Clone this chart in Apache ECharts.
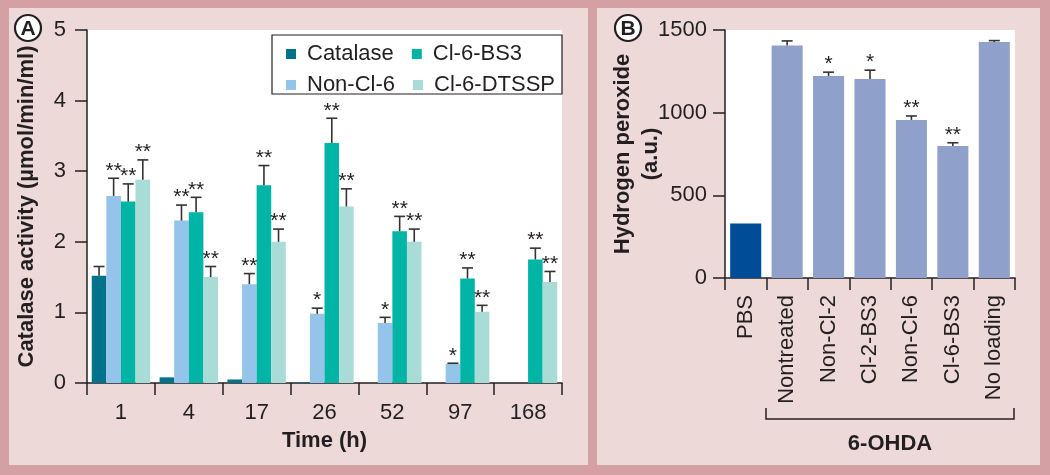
<!DOCTYPE html>
<html><head><meta charset="utf-8">
<script src="https://cdn.jsdelivr.net/npm/echarts@6/dist/echarts.min.js"></script>
<style>html,body{margin:0;padding:0;background:#eed9d9}#c{width:1050px;height:475px}</style>
</head><body><div id="c"></div>
<script>
// ---------- Panel A data ----------
const timeCats = ['1', '4', '17', '26', '52', '97', '168'];
const seriesNames = ['Catalase', 'Non-Cl-6', 'Cl-6-BS3', 'Cl-6-DTSSP'];
const catalase     = [1.52, 0.08, 0.05, 0.01, 0, 0, 0];
const catalaseErr  = [1.65, 0.08, 0.05, 0.01, 0, 0, 0];
const nonCl6       = [2.65, 2.30, 1.40, 0.98, 0.85, 0.27, 0];
const nonCl6Err    = [2.90, 2.52, 1.55, 1.06, 0.93, 0.28, 0];
const cl6BS3       = [2.57, 2.42, 2.80, 3.40, 2.15, 1.48, 1.75];
const cl6BS3Err    = [2.82, 2.63, 3.08, 3.75, 2.36, 1.63, 1.91];
const cl6DTSSP     = [2.88, 1.50, 2.00, 2.50, 2.00, 1.01, 1.43];
const cl6DTSSPErr  = [3.16, 1.65, 2.18, 2.75, 2.18, 1.10, 1.58];
const catalaseStars = ['', '', '', '', '', '', ''];
const nonCl6Stars   = ['**', '**', '**', '*', '*', '*', ''];
const cl6BS3Stars   = ['**', '**', '**', '**', '**', '**', '**'];
const cl6DTSSPStars = ['**', '**', '**', '**', '**', '**', '**'];
// ---------- Panel B data ----------
const groups    = ['PBS', 'Nontreated', 'Non-Cl-2', 'Cl-2-BS3', 'Non-Cl-6', 'Cl-6-BS3', 'No loading'];
const h2o2      = [330, 1406, 1222, 1204, 956, 798, 1427];
const h2o2Err   = [330, 1434, 1245, 1257, 980, 818, 1436];
const h2o2Stars = ['', '', '*', '*', '**', '**', ''];

const colorsA = ['#00728c', '#95c4ea', '#00b4a6', '#a9dcd6'];
const colorPBS = '#004c97';
const colorB = '#8fa1cb';
const ink = '#231f20';
const FONT = '"Liberation Sans", Arial, Helvetica, sans-serif';

const valsA = [catalase, nonCl6, cl6BS3, cl6DTSSP];
const errsA = [catalaseErr, nonCl6Err, cl6BS3Err, cl6DTSSPErr];
const starsA = [catalaseStars, nonCl6Stars, cl6BS3Stars, cl6DTSSPStars];

const gapA = 0.14, gapB = 0.25;

function makeErrRender(barCount, gapPct, starList) {
  return function (params, api) {
    const cat = api.value(0), si = api.value(1), v = api.value(2), e = api.value(3);
    const w = api.size([1, 0])[0];
    const bw = w * (1 - gapPct) / barCount;
    const x = api.coord([cat, 0])[0] + (si - (barCount - 1) / 2) * bw;
    const yTop = api.coord([cat, e])[1];
    const yV = api.coord([cat, v])[1];
    const children = [];
    if (e > v) {
      children.push({type: 'line', shape: {x1: x, y1: yV, x2: x, y2: yTop}, style: {stroke: '#333', lineWidth: 1.6}});
      children.push({type: 'line', shape: {x1: x - 5.5, y1: yTop, x2: x + 5.5, y2: yTop}, style: {stroke: '#333', lineWidth: 1.6}});
    }
    const s = starList[params.dataIndex];
    if (s) {
      children.push({type: 'text', style: {text: s, x: x, y: yTop + 3, align: 'center', verticalAlign: 'bottom',
        fontSize: 21, fontFamily: FONT, fill: ink}});
    }
    return {type: 'group', children: children};
  };
}

const errDataA = [], errStarsA = [];
for (let si = 0; si < 4; si++) {
  for (let ci = 0; ci < timeCats.length; ci++) {
    errDataA.push([ci, si, valsA[si][ci], errsA[si][ci]]);
    errStarsA.push(starsA[si][ci]);
  }
}
const errDataB = groups.map((g, i) => [i, 0, h2o2[i], h2o2Err[i]]);

const axisLine = {show: true, lineStyle: {color: ink, width: 1.5}};
const axisTick = {show: true, length: 12, lineStyle: {color: ink, width: 1.5}};

const option = {
  backgroundColor: '#eed9d9',
  animation: false,
  textStyle: {fontFamily: FONT},
  grid: [
    {left: 87, top: 30, width: 475, height: 353, show: true, backgroundColor: '#ffffff', borderWidth: 0},
    {left: 725, top: 30, width: 290, height: 248, show: true, backgroundColor: '#ffffff', borderWidth: 0}
  ],
  xAxis: [
    {type: 'category', gridIndex: 0, data: timeCats, axisLine: axisLine, axisTick: axisTick,
      axisLabel: {fontSize: 22, color: ink, margin: 19, fontFamily: FONT},
      name: 'Time (h)', nameLocation: 'middle', nameGap: 47,
      nameTextStyle: {fontSize: 22, fontWeight: 'bold', color: ink, fontFamily: FONT}},
    {type: 'category', gridIndex: 1, data: groups, axisLine: axisLine, axisTick: axisTick,
      axisLabel: {fontSize: 22, color: ink, rotate: 90, margin: 17, fontFamily: FONT, interval: 0}}
  ],
  yAxis: [
    {type: 'value', gridIndex: 0, min: 0, max: 5, interval: 1, axisLine: axisLine, axisTick: axisTick,
      splitLine: {show: false}, axisLabel: {fontSize: 22, color: ink, margin: 21, fontFamily: FONT},
      name: 'Catalase activity (µmol/min/ml)', nameLocation: 'middle', nameGap: 49,
      nameTextStyle: {fontSize: 22, fontWeight: 'bold', color: ink, fontFamily: FONT}},
    {type: 'value', gridIndex: 1, min: 0, max: 1500, interval: 500, axisLine: axisLine, axisTick: axisTick,
      splitLine: {show: false},
      axisLabel: {fontSize: 22, color: ink, margin: 18, fontFamily: FONT, formatter: (v) => String(v)},
      name: 'Hydrogen peroxide\n(a.u.)', nameLocation: 'middle', nameGap: 60, nameMoveOverlap: false,
      nameTextStyle: {fontSize: 22, fontWeight: 'bold', color: ink, fontFamily: FONT, lineHeight: 28}}
  ],
  legend: [
    {data: [seriesNames[0], seriesNames[2]], left: 281, top: 38, itemWidth: 10, itemHeight: 10, itemGap: 18,
      icon: 'rect', z: 10, selectedMode: false,
      textStyle: {fontSize: 22, color: ink, fontFamily: FONT, padding: [0, 0, 0, 6]}},
    {data: [seriesNames[1], seriesNames[3]], left: 281, top: 69, itemWidth: 10, itemHeight: 10, itemGap: 18,
      icon: 'rect', z: 10, selectedMode: false,
      textStyle: {fontSize: 22, color: ink, fontFamily: FONT, padding: [0, 0, 0, 6]}}
  ],
  graphic: [
    {type: 'rect', shape: {x: 0, y: 0, width: 1050, height: 8}, style: {fill: '#d4a0a4'}, silent: true},
    {type: 'rect', shape: {x: 0, y: 465, width: 1050, height: 10}, style: {fill: '#d4a0a4'}, silent: true},
    {type: 'rect', shape: {x: 0, y: 0, width: 9, height: 475}, style: {fill: '#d4a0a4'}, silent: true},
    {type: 'rect', shape: {x: 1040, y: 0, width: 10, height: 475}, style: {fill: '#d4a0a4'}, silent: true},
    {type: 'rect', shape: {x: 588, y: 0, width: 9, height: 475}, style: {fill: '#d4a0a4'}, silent: true},
    {type: 'rect', z: 5, shape: {x: 272, y: 35, width: 290, height: 59},
      style: {fill: '#ffffff', stroke: ink, lineWidth: 1.2}, silent: true},
    {type: 'circle', shape: {cx: 28, cy: 28, r: 13}, style: {fill: '#ffffff', stroke: ink, lineWidth: 2.2}, z: 5},
    {type: 'text', z: 6, style: {text: 'A', x: 28, y: 29, align: 'center', verticalAlign: 'middle',
      fontSize: 21, fontWeight: 'bold', fontFamily: FONT, fill: ink}},
    {type: 'circle', shape: {cx: 628, cy: 28, r: 13}, style: {fill: '#ffffff', stroke: ink, lineWidth: 2.2}, z: 5},
    {type: 'text', z: 6, style: {text: 'B', x: 628, y: 29, align: 'center', verticalAlign: 'middle',
      fontSize: 21, fontWeight: 'bold', fontFamily: FONT, fill: ink}},
    {type: 'polyline', shape: {points: [[766, 408], [766, 419], [1014, 419], [1014, 408]]},
      style: {stroke: ink, lineWidth: 1.5, fill: null}},
    {type: 'text', style: {text: '6-OHDA', x: 890, y: 444, align: 'center', verticalAlign: 'middle',
      fontSize: 22, fontWeight: 'bold', fontFamily: FONT, fill: ink}}
  ],
  series: [
    ...seriesNames.map((n, si) => ({
      name: n, type: 'bar', xAxisIndex: 0, yAxisIndex: 0, data: valsA[si],
      barGap: '0%', barCategoryGap: (gapA * 100) + '%',
      itemStyle: {color: colorsA[si]}
    })),
    {type: 'custom', xAxisIndex: 0, yAxisIndex: 0, data: errDataA, z: 5, clip: false,
      renderItem: makeErrRender(4, gapA, errStarsA), encode: {x: 0, y: 3}},
    {type: 'bar', name: 'H2O2', xAxisIndex: 1, yAxisIndex: 1, barCategoryGap: (gapB * 100) + '%',
      data: h2o2.map((v, i) => ({value: v, itemStyle: {color: i === 0 ? colorPBS : colorB}}))},
    {type: 'custom', xAxisIndex: 1, yAxisIndex: 1, data: errDataB, z: 5, clip: false,
      renderItem: makeErrRender(1, gapB, h2o2Stars), encode: {x: 0, y: 3}}
  ]
};
const chart = echarts.init(document.getElementById('c'), null, {renderer: 'canvas'});
chart.setOption(option);
</script></body></html>
